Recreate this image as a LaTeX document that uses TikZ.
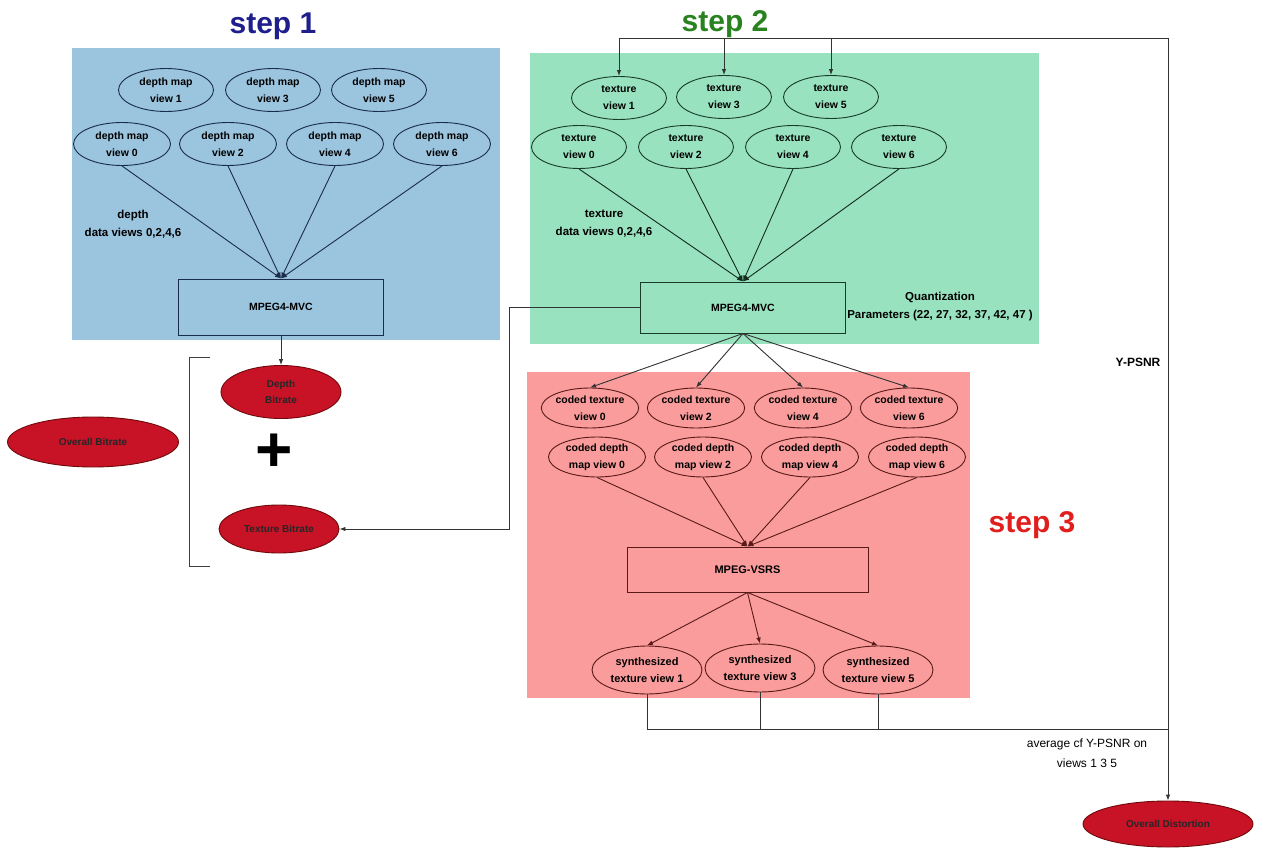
\documentclass[tikz,border=0pt]{standalone}
\usepackage{fontspec}
\setmainfont{Liberation Sans}
\usetikzlibrary{shapes.geometric,arrows.meta}
\definecolor{bluebg}{RGB}{155,196,222}
\definecolor{greenbg}{RGB}{152,226,192}
\definecolor{pinkbg}{RGB}{250,156,156}
\definecolor{redfill}{RGB}{200,18,38}
\definecolor{redline}{RGB}{110,10,10}
\definecolor{stepblue}{RGB}{30,30,140}
\definecolor{stepgreen}{RGB}{40,130,30}
\definecolor{stepred}{RGB}{225,30,30}
\definecolor{lineblue}{RGB}{25,45,75}
\definecolor{linegreen}{RGB}{25,60,40}
\definecolor{linered}{RGB}{90,25,25}
\begin{document}
\begin{tikzpicture}[x=1pt,y=-1pt,
  ov/.style={ellipse, draw, inner sep=0pt, minimum width=95pt, minimum height=43pt,
    align=center, font=\bfseries\fontsize{10.5}{17}\selectfont, line width=0.9pt},
  ovblue/.style={ov, draw=lineblue},
  ovgreen/.style={ov, draw=linegreen},
  ovred/.style={ov, draw=linered, minimum height=40pt},
  redov/.style={ellipse, draw=redline, fill=redfill, inner sep=0pt, line width=0.9pt,
    align=center, font=\bfseries\fontsize{10}{16}\selectfont, text=black!85},
  procbox/.style={rectangle, draw, line width=1pt, inner sep=0pt, align=center,
    font=\bfseries\fontsize{10.5}{13}\selectfont},
  lbl/.style={align=center, inner sep=0pt, font=\bfseries\fontsize{11.5}{18}\selectfont},
  steplbl/.style={anchor=base, inner sep=0pt, font=\bfseries\fontsize{30}{30}\selectfont},
  conn/.style={line width=0.9pt},
  arr/.style={conn, -{Latex[length=6pt,width=4.5pt]}}
]
\useasboundingbox (0,0) rectangle (1270,848);
\fill[white] (0,0) rectangle (1270,848);
% backgrounds
\fill[bluebg] (72,48) rectangle (500,340);
\fill[greenbg] (530,53) rectangle (1039,344);
\fill[pinkbg] (527,372) rectangle (970,698);

% step titles
\node[steplbl, text=stepblue] (st1) at (273,34) {step 1};
\node[steplbl, text=stepgreen] (st2) at (725,32) {step 2};
\node[steplbl, text=stepred] (st3) at (1032,532) {step 3};

% step 1
\node[ovblue] (d1) at (166,90) {depth map\\view 1};
\node[ovblue] (d3) at (273,90) {depth map\\view 3};
\node[ovblue] (d5) at (379,90) {depth map\\view 5};
\node[ovblue, minimum width=97pt] (d0) at (122,144) {depth map\\view 0};
\node[ovblue, minimum width=97pt] (d2) at (228,144) {depth map\\view 2};
\node[ovblue, minimum width=97pt] (d4) at (335,144) {depth map\\view 4};
\node[ovblue, minimum width=97pt] (d6) at (442,144) {depth map\\view 6};
\node[procbox, draw=lineblue, minimum width=205pt, minimum height=56pt] (mvc1) at (281,307) {MPEG4-MVC};
\node[lbl] (ldep) at (133,224) {depth\\data views 0,2,4,6};
\foreach \n in {d0,d2,d4,d6} \draw[arr, lineblue] (\n.south) -- (mvc1.north);

% step 2
\node[ovgreen] (t1) at (619,98) {texture\\view 1};
\node[ovgreen] (t3) at (724,97) {texture\\view 3};
\node[ovgreen] (t5) at (831,97) {texture\\view 5};
\node[ovgreen] (t0) at (579,147) {texture\\view 0};
\node[ovgreen] (t2) at (686,147) {texture\\view 2};
\node[ovgreen] (t4) at (793,147) {texture\\view 4};
\node[ovgreen] (t6) at (899,147) {texture\\view 6};
\node[procbox, draw=linegreen, minimum width=205pt, minimum height=51pt] (mvc2) at (743,307.5) {MPEG4-MVC};
\node[lbl] (ltex) at (604,224) {texture\\data views 0,2,4,6};
\node[lbl] (lqp) at (940,307) {Quantization\\Parameters (22, 27, 32, 37, 42, 47 )};
\foreach \n in {t0,t2,t4,t6} \draw[arr, linegreen!70!black] (\n.south) -- (mvc2.north);

% step 3
\node[ovred] (ct0) at (590,408) {coded texture\\view 0};
\node[ovred] (ct2) at (696,408) {coded texture\\view 2};
\node[ovred] (ct4) at (803,408) {coded texture\\view 4};
\node[ovred] (ct6) at (909,408) {coded texture\\view 6};
\node[ovred, minimum width=97pt] (cd0) at (597,457) {coded depth\\map view 0};
\node[ovred, minimum width=97pt] (cd2) at (703,457) {coded depth\\map view 2};
\node[ovred, minimum width=97pt] (cd4) at (810,457) {coded depth\\map view 4};
\node[ovred, minimum width=97pt] (cd6) at (917,457) {coded depth\\map view 6};
\node[procbox, draw=linered, minimum width=241pt, minimum height=45pt, font=\bfseries\fontsize{11}{13}\selectfont] (vsrs) at (747.5,569.5) {MPEG-VSRS};
\node[ovred, minimum width=110pt, minimum height=48pt, font=\bfseries\fontsize{11}{17}\selectfont] (s1) at (647,670) {synthesized\\texture view 1};
\node[ovred, minimum width=110pt, minimum height=48pt, font=\bfseries\fontsize{11}{17}\selectfont] (s3) at (760,668) {synthesized\\texture view 3};
\node[ovred, minimum width=110pt, minimum height=48pt, font=\bfseries\fontsize{11}{17}\selectfont] (s5) at (878,670) {synthesized\\texture view 5};
\foreach \n in {ct0,ct2,ct4,ct6} \draw[arr, black!80] (mvc2.south) -- (\n.north);
\foreach \n in {cd0,cd2,cd4,cd6} \draw[arr, linered] (\n.south) -- (vsrs.north);
\foreach \n in {s1,s3,s5} \draw[arr, linered] (vsrs.south) -- (\n.north);

% bitrate side
\node[redov, minimum width=120pt, minimum height=53pt] (db) at (281,392) {Depth\\Bitrate};
\node[redov, minimum width=120pt, minimum height=48pt] (tb) at (279,529) {Texture Bitrate};
\node[redov, minimum width=171pt, minimum height=50pt] (ob) at (93,442) {Overall Bitrate};
\node[inner sep=0pt, font=\bfseries\fontsize{64}{64}\selectfont] (plus) at (274,453) {+};
\draw[conn, black!75] (210,357) -- (189,357) -- (189,566) -- (210,566);
\draw[arr, black!80] (mvc1.south) -- (db.north);
\draw[arr, black!80] (mvc2.west) -- ++(-131,0) |- (tb.east);

% distortion side
\node[redov, minimum width=170pt, minimum height=46pt] (od) at (1168,824) {Overall Distortion};
\node[lbl, font=\bfseries\fontsize{12}{18}\selectfont] (lyp) at (1138,362) {Y-PSNR};
\node[lbl, font=\fontsize{12}{20}\selectfont] (lavg) at (1087,753) {average cf Y-PSNR on\\views 1 3 5};
\coordinate (jr) at (1168,729);
\coordinate (tr) at (1168,38);
\draw[conn, black!80] (s1.south) -- (s1.south |- jr) -- (jr);
\draw[conn, black!80] (s3.south) -- (s3.south |- jr);
\draw[conn, black!80] (s5.south) -- (s5.south |- jr);
\draw[arr, black!80] (jr) -- (od.north);
\draw[conn, black!80] (jr) -- (tr) -- (t1.north |- tr);
\draw[arr, black!80] (t1.north |- tr) -- (t1.north);
\draw[arr, black!80] (t3.north |- tr) -- (t3.north);
\draw[arr, black!80] (t5.north |- tr) -- (t5.north);
\end{tikzpicture}
\end{document}
